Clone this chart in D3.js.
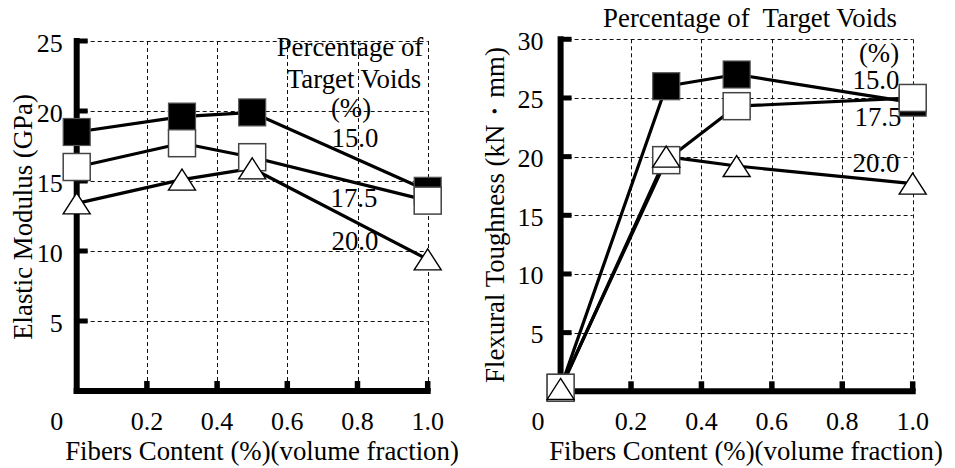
<!DOCTYPE html>
<html>
<head>
<meta charset="utf-8">
<script src="https://cdn.jsdelivr.net/npm/d3@7"></script>
<style>
  body { margin: 0; background: #fff; }
  svg text { font-family: "Liberation Serif", "DejaVu Serif", serif; fill: #000; }
</style>
</head>
<body>
<svg id="chart" width="955" height="468" font-family="Liberation Serif, DejaVu Serif, serif"></svg>
<script>
// Fibre content (volume fraction, %) at which each mix was tested
const fiberContent = [0, 0.3, 0.5, 1.0];
// Target void percentages, one series per level
const voidLevels = ["15.0", "17.5", "20.0"];

// Elastic modulus (GPa)
const elasticModulus15 = [18.5, 19.6, 19.9, 14.3];
const elasticModulus175 = [16.0, 17.7, 16.7, 13.6];
const elasticModulus20 = [13.4, 15.1, 15.9, 9.4];

// Flexural toughness (kN·mm)
const toughness15 = [0.3, 26.0, 27.0, 24.6];
const toughness175 = [0.3, 19.7, 24.3, 25.0];
const toughness20 = [0.2, 20.0, 19.2, 17.7];

// Tick values and labels
const xTicks = [0, 0.2, 0.4, 0.6, 0.8, 1.0];
const xTickLabels = ["0", "0.2", "0.4", "0.6", "0.8", "1.0"];
const elasticTicks = [5, 10, 15, 20, 25];
const elasticTickLabels = ["5", "10", "15", "20", "25"];
const toughTicks = [5, 10, 15, 20, 25, 30];
const toughTickLabels = ["5", "10", "15", "20", "25", "30"];

const xTitle = "Fibers Content (%)(volume fraction)";
const svg = d3.select("#chart");
const TICK_FONT = 26;
const TEXT_FONT = 26.8;
const SERIF = "Liberation Serif, DejaVu Serif, serif";
const crisp = v => Math.round(v) + 0.5;

function label(sel, text, size) {
  return sel.append("text").attr("font-family", SERIF).attr("font-size", size).text(text);
}

function drawPanel(cfg) {
  const x = d3.scaleLinear().domain([0, 1]).range(cfg.xRange);
  const y = d3.scaleLinear().domain([0, cfg.yMax]).range(cfg.yRange);
  const g = svg.append("g");
  const x0 = x(0), x1 = x(1), yb = y(0), yt = y(cfg.yMax);

  // Legend / annotation text (sits beneath the grid)
  cfg.notes.forEach(n => {
    label(g, n.text, TEXT_FONT)
      .attr("x", n.x).attr("y", n.y)
      .attr("text-anchor", "middle")
      .style("white-space", "pre");
  });

  // Dashed grid
  const grid = g.append("g")
    .attr("stroke", "#111").attr("stroke-width", 1)
    .attr("stroke-dasharray", "4,3").attr("fill", "none");
  cfg.yTicks.forEach(v => {
    grid.append("line").attr("x1", x0).attr("x2", x1)
      .attr("y1", crisp(y(v))).attr("y2", crisp(y(v)));
  });
  xTicks.filter(v => v > 0).forEach(v => {
    grid.append("line").attr("x1", crisp(x(v))).attr("x2", crisp(x(v)))
      .attr("y1", yt).attr("y2", yb);
  });

  // Heavy axis lines
  g.append("line").attr("x1", x0).attr("x2", x0).attr("y1", yt - 3).attr("y2", yb + 3)
    .attr("stroke", "#000").attr("stroke-width", 6);
  g.append("line").attr("x1", x0 - 3).attr("x2", x1 + 3).attr("y1", yb).attr("y2", yb)
    .attr("stroke", "#000").attr("stroke-width", 6);

  // Inward tick stubs
  cfg.yTicks.forEach(v => {
    g.append("line").attr("x1", x0).attr("x2", x0 + 11).attr("y1", y(v)).attr("y2", y(v))
      .attr("stroke", "#000").attr("stroke-width", 5);
  });
  xTicks.filter(v => v > 0).forEach(v => {
    g.append("line").attr("x1", x(v)).attr("x2", x(v)).attr("y1", yb).attr("y2", yb - 10)
      .attr("stroke", "#000").attr("stroke-width", 5.5);
  });

  // Tick labels
  cfg.yTicks.forEach((v, i) => {
    label(g, cfg.yTickLabels[i], TICK_FONT)
      .attr("x", x0 - cfg.yLabelGap).attr("y", y(v) + 10.5)
      .attr("text-anchor", "end");
  });
  xTicks.forEach((v, i) => {
    label(g, xTickLabels[i], TICK_FONT)
      .attr("x", v === 0 ? x0 - cfg.zeroShift : x(v)).attr("y", 430)
      .attr("text-anchor", "middle");
  });

  // Axis titles
  label(g, xTitle, TEXT_FONT).attr("x", cfg.xTitleX).attr("y", 460).attr("text-anchor", "middle");
  label(g, cfg.yTitle, TEXT_FONT)
    .attr("transform", `translate(${cfg.yTitlePos[0]},${cfg.yTitlePos[1]}) rotate(-90)`)
    .attr("text-anchor", "middle").attr("dominant-baseline", "central");

  // Series lines
  const line = d3.line().x((d, i) => x(fiberContent[i])).y(d => y(d));
  cfg.series.forEach(s => {
    g.append("path").datum(s.values).attr("d", line)
      .attr("fill", "none").attr("stroke", "#000").attr("stroke-width", 3.2)
      .attr("stroke-linejoin", "round");
  });

  // Markers: filled squares, then open squares, then triangles on top
  const S = 27, TW = 27, TH = 21;
  cfg.series.forEach(s => {
    s.values.forEach((v, i) => {
      const cx = x(fiberContent[i]), cy = y(v);
      if (s.marker === "filled") {
        g.append("rect").attr("x", cx - S / 2).attr("y", cy - S / 2)
          .attr("width", S).attr("height", S)
          .attr("fill", "#000").attr("stroke", "#555").attr("stroke-width", 1.2);
      } else if (s.marker === "open") {
        g.append("rect").attr("x", cx - S / 2).attr("y", cy - S / 2)
          .attr("width", S).attr("height", S)
          .attr("fill", "#fff").attr("stroke", "#444").attr("stroke-width", 1.5);
      } else {
        g.append("path")
          .attr("d", `M${cx},${cy - TH / 2}L${cx + TW / 2},${cy + TH / 2}L${cx - TW / 2},${cy + TH / 2}Z`)
          .attr("fill", "#fff").attr("stroke", "#000").attr("stroke-width", 1.4)
          .attr("stroke-linejoin", "miter");
      }
    });
  });
}

// Left panel: elastic modulus
drawPanel({
  xRange: [76.7, 427.7],
  yMax: 25,
  yRange: [391, 41],
  yTicks: elasticTicks,
  yTickLabels: elasticTickLabels,
  yLabelGap: 14,
  zeroShift: 20,
  xTitleX: 262,
  yTitle: "Elastic Modulus (GPa)",
  yTitlePos: [23, 217],
  series: [
    { level: voidLevels[0], marker: "filled", values: elasticModulus15 },
    { level: voidLevels[1], marker: "open", values: elasticModulus175 },
    { level: voidLevels[2], marker: "triangle", values: elasticModulus20 }
  ],
  notes: [
    { text: "Percentage of", x: 350, y: 56 },
    { text: "Target Voids", x: 354, y: 88 },
    { text: "(%)", x: 351, y: 117 },
    { text: voidLevels[0], x: 355, y: 147 },
    { text: voidLevels[1], x: 354, y: 207 },
    { text: voidLevels[2], x: 355, y: 250 }
  ]
});

// Right panel: flexural toughness
drawPanel({
  xRange: [560.6, 912.7],
  yMax: 30,
  yRange: [391.3, 39.3],
  yTicks: toughTicks,
  yTickLabels: toughTickLabels,
  yLabelGap: 17,
  zeroShift: 22.6,
  xTitleX: 746,
  yTitle: "Flexural Toughness (kN・mm)",
  yTitlePos: [495, 215],
  series: [
    { level: voidLevels[0], marker: "filled", values: toughness15 },
    { level: voidLevels[1], marker: "open", values: toughness175 },
    { level: voidLevels[2], marker: "triangle", values: toughness20 }
  ],
  notes: [
    { text: "Percentage of  Target Voids", x: 750, y: 27 },
    { text: "(%)", x: 879, y: 62 },
    { text: voidLevels[0], x: 876, y: 89 },
    { text: voidLevels[1], x: 878, y: 126 },
    { text: voidLevels[2], x: 876, y: 172 }
  ]
});
</script>
</body>
</html>
